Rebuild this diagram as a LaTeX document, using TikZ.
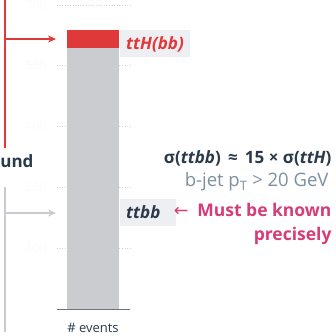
\documentclass[tikz,border=0pt]{standalone}
\usepackage{fontspec}
\setmainfont{Open Sans}
\newfontfamily\symfont{DejaVu Sans}
\usetikzlibrary{arrows.meta}

\definecolor{sigred}{HTML}{E0393A}
\definecolor{bargray}{HTML}{CBCCD0}
\definecolor{boxgray}{HTML}{EEEFF2}
\definecolor{darktext}{HTML}{2B3A4B}
\definecolor{slatetext}{HTML}{7D909F}
\definecolor{pinktext}{HTML}{D63C78}
\definecolor{linegray}{HTML}{C9CBCF}
\definecolor{faint}{HTML}{FAFAFA}

\tikzset{
  lbl/.style={fill=boxgray, anchor=west, inner xsep=6pt, minimum height=27pt,
    font=\fontsize{17}{20}\selectfont\bfseries\itshape},
  big/.style={font=\fontsize{17}{24}\selectfont\bfseries},
  tick/.style={draw=linegray!80, dotted, line width=0.6pt},
  ticklabel/.style={text=faint, anchor=east, font=\fontsize{12}{14}\selectfont},
  sigline/.style={draw=sigred, line width=1.6pt},
  bkgline/.style={draw=linegray, line width=1.6pt},
}

\begin{document}
\begin{tikzpicture}[x=1pt, y=-1pt]
    \useasboundingbox (0,0) rectangle (335,336);
    \clip (0,0) rectangle (335,336);

    % axis ticks
    \foreach \y/\v in {5/700, 65/550, 126/400, 187/250, 248/100} {
        \draw[tick] (57,\y) -- (130,\y);
        \node[ticklabel] at (50,\y) {\v};
    }

    % the bar
    \fill[bargray] (67,48) rectangle (119,309);
    \fill[sigred] (67,30) rectangle (119,48);
    \draw[darktext!70, line width=1pt] (57,309) -- (130,309);
    \node[font=\fontsize{13}{16}\selectfont, text=darktext] (evt) at (93,328) {\# events};

    % labels next to the bar
    \node[lbl, text=sigred] (tth) at (120,44) {ttH(bb)};
    \node[lbl, text=darktext, minimum width=56pt, align=left, text width=44pt] (ttbb) at (120,212) {ttbb};

    % signal and background brackets
    \coordinate (sigtop) at (5,-2);
    \coordinate (sigbot) at (5,148);
    \coordinate (sigjoin) at (5,39);
    \coordinate (sigtip) at (56,39);
    \draw[sigline] (sigtop) -- (sigbot);
    \draw[sigline, -{Stealth[length=8pt, width=7pt]}] (sigjoin) -- (sigtip);

    \node[big, text=darktext, anchor=east] (bkg) at (37,163) {Background};

    \coordinate (bkgtop) at (5,187);
    \coordinate (bkgbot) at (5,332);
    \coordinate (bkgjoin) at (5,213);
    \coordinate (bkgtip) at (56,213);
    \draw[bkgline] (bkgtop) -- (bkgbot);
    \draw[bkgline, -{Stealth[length=8pt, width=7pt]}] (bkgjoin) -- (bkgtip);

    % cross section note
    \node[big, text=darktext, anchor=east] (xsec) at (335,158)
        {σ(\textit{ttbb}) \,≈\, 15 × σ(\textit{ttH})};
    \node[font=\fontsize{18.5}{20}\selectfont, text=slatetext, anchor=east] (cut) at (332,182)
        {b-jet p\textsubscript{T} > 20 GeV};
    \node[font=\fontsize{17.5}{24}\selectfont\bfseries, text=pinktext, anchor=east, align=right] (must) at (335,224)
        {{\symfont\mdseries ←}\enspace Must be known\\precisely};
\end{tikzpicture}
\end{document}
